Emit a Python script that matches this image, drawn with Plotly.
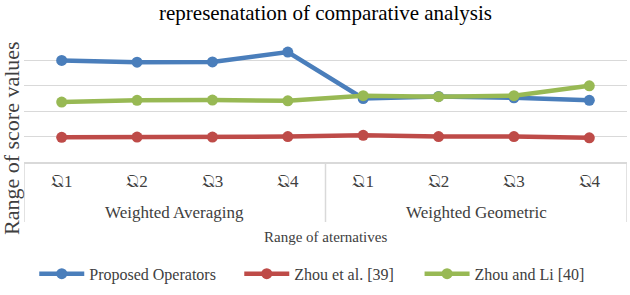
import plotly.graph_objects as go

groups = ["Weighted Averaging", "Weighted Geometric"]
alts = ["𝔔1", "𝔔2", "𝔔3", "𝔔4", "𝔔1", "𝔔2", "𝔔3", "𝔔4"]

proposed = [4.00, 3.93, 3.94, 4.33, 2.50, 2.58, 2.53, 2.43]
zhou39 = [0.97, 0.98, 0.98, 1.00, 1.05, 1.00, 1.00, 0.95]
zhouli40 = [2.36, 2.43, 2.44, 2.41, 2.61, 2.57, 2.61, 3.00]

series = [
    ("Proposed Operators", proposed, "#4A7EBB"),
    ("Zhou et al. [39]", zhou39, "#BE4B48"),
    ("Zhou and Li [40]", zhouli40, "#98B954"),
]

FONT = "Liberation Serif"
GRID = "#D9D9D9"
xs = list(range(len(alts)))
legend_x = [0.017, 0.357, 0.656]

fig = go.Figure()
for i, (name, vals, col) in enumerate(series):
    fig.add_trace(go.Scatter(
        x=xs, y=vals, name=name, mode="lines+markers",
        line=dict(color=col, width=4.5), marker=dict(color=col, size=11),
        legend="legend" if i == 0 else f"legend{i+1}",
    ))

leg_common = dict(orientation="h", xanchor="left", y=-0.88, yanchor="middle",
                  font=dict(family=FONT, size=16, color="#404040"), itemwidth=45,
                  bgcolor="rgba(0,0,0,0)")
fig.update_layout(
    width=630, height=295,
    margin=dict(l=24, r=3, t=35, b=133, autoexpand=False),
    paper_bgcolor="white", plot_bgcolor="white",
    font=dict(family=FONT, color="#404040"),
    showlegend=True,
    legend=dict(x=legend_x[0], **leg_common),
    legend2=dict(x=legend_x[1], **leg_common),
    legend3=dict(x=legend_x[2], **leg_common),
    xaxis=dict(tickmode="array", tickvals=xs, ticktext=alts, showline=True, linecolor=GRID,
               linewidth=1.5, showgrid=False, zeroline=False,
               tickfont=dict(family=FONT, size=17, color="#404040"), ticks="",
               ticklabelstandoff=3, range=[-0.5, len(alts) - 0.5], automargin=False),
    yaxis=dict(range=[0, 5], dtick=1, showticklabels=False, gridcolor=GRID,
               gridwidth=1.2, zeroline=False, showline=False, automargin=False),
)
# group dividers and labels
for b in [-0.5, 3.5, 7.5]:
    fig.add_shape(type="line", xref="x", yref="paper", x0=b, x1=b, y0=0, y1=-60 / 127,
                  line=dict(color=GRID, width=1.5))
for gi, g in enumerate(groups):
    fig.add_annotation(text=g, xref="x", yref="paper", x=gi * 4 + 1.5, y=0, yshift=-50,
                       xanchor="center", yanchor="middle", showarrow=False,
                       font=dict(family=FONT, size=17, color="#404040"))

fig.add_annotation(text="represenatation of comparative analysis", xref="paper", yref="paper",
                   x=0.5, y=1.0, yshift=22, xanchor="center", yanchor="middle", showarrow=False,
                   font=dict(family=FONT, size=21, color="black"))
fig.add_annotation(text="Range of score values", xref="paper", yref="paper",
                   x=0, xshift=-13, y=0.0, yshift=24, textangle=-90, xanchor="center", yanchor="middle",
                   showarrow=False, font=dict(family=FONT, size=22, color="#404040"))
fig.add_annotation(text="Range of aternatives", xref="paper", yref="paper",
                   x=0.5, y=0, yshift=-75, xanchor="center", yanchor="middle",
                   showarrow=False, font=dict(family=FONT, size=15, color="#404040"))

fig.write_html("out.html", config={"displayModeBar": False},
               post_script="document.body.style.margin='0px';")
